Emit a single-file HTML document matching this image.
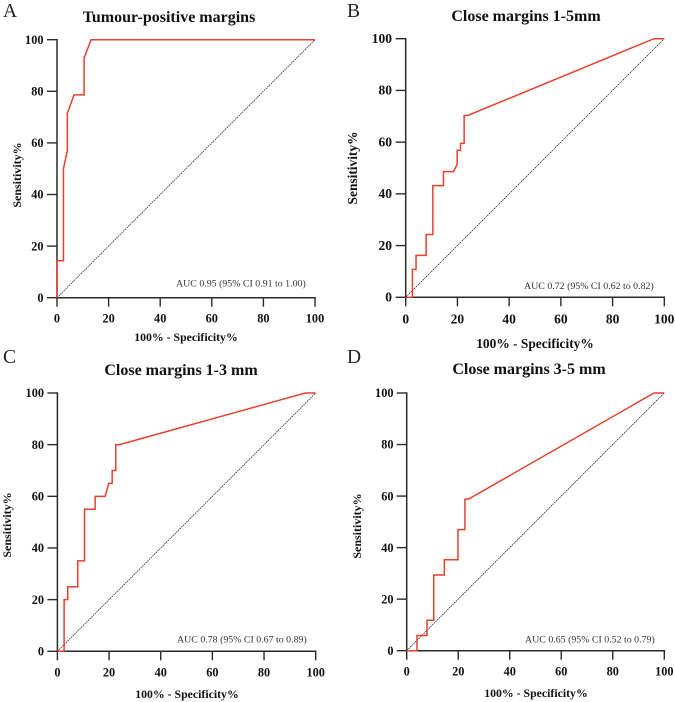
<!DOCTYPE html>
<html lang="en">
<head>
<meta charset="utf-8">
<title>ROC curves</title>
<style>
html,body{margin:0;padding:0;background:#fff;}
svg{display:block;font-family:"Liberation Serif",serif;}
.tick{font-size:12.3px;font-weight:bold;fill:#111;}
.axis-label{font-size:11.8px;font-weight:bold;fill:#111;}
.axis-label.large{font-size:13.4px;}
.y-label{font-size:12px;}
.y-label.large{font-size:13.4px;}
.title{font-size:16px;font-weight:bold;fill:#111;}
.letter{font-size:19.5px;fill:#222;}
.auc{font-size:9.9px;fill:#333;}
</style>
</head>
<body>
<svg id="fig" width="675" height="702" viewBox="0 0 675 702" xmlns="http://www.w3.org/2000/svg">
  <rect width="675" height="702" fill="#fff"/>

  <g>
    <text class="letter" x="3" y="17">A</text>
    <text class="title" x="169" y="22" text-anchor="middle">Tumour-positive margins</text>
    <text class="auc" x="176" y="286.500">AUC 0.95 (95% CI 0.91 to 1.00)</text>
    <text class="axis-label" x="186" y="341" text-anchor="middle">100% - Specificity%</text>
    <text class="axis-label y-label" transform="translate(21 175) rotate(-90)" text-anchor="middle">Sensitivity%</text>
  </g>

  <g>
    <text class="letter" x="347" y="17">B</text>
    <text class="title" x="526" y="21" text-anchor="middle">Close margins 1-5mm</text>
    <text class="auc" x="524" y="289">AUC 0.72 (95% CI 0.62 to 0.82)</text>
    <text class="axis-label large" x="535" y="348" text-anchor="middle">100% - Specificity%</text>
    <text class="axis-label y-label large" transform="translate(357 168) rotate(-90)" text-anchor="middle">Sensitivity%</text>
  </g>

  <g>
    <text class="letter" x="3" y="363">C</text>
    <text class="title" x="181" y="375" text-anchor="middle">Close margins 1-3 mm</text>
    <text class="auc" x="177" y="642.500">AUC 0.78 (95% CI 0.67 to 0.89)</text>
    <text class="axis-label" x="187" y="698" text-anchor="middle">100% - Specificity%</text>
    <text class="axis-label y-label" transform="translate(11 525) rotate(-90)" text-anchor="middle">Sensitivity%</text>
  </g>

  <g>
    <text class="letter" x="347" y="363">D</text>
    <text class="title" x="529" y="374" text-anchor="middle">Close margins 3-5 mm</text>
    <text class="auc" x="525" y="642.500">AUC 0.65 (95% CI 0.52 to 0.79)</text>
    <text class="axis-label" x="536" y="697" text-anchor="middle">100% - Specificity%</text>
    <text class="axis-label y-label" transform="translate(361 526) rotate(-90)" text-anchor="middle">Sensitivity%</text>
  </g>
</svg>
<script>
// Tick labels shared by both axes of every panel
const tickValues = [0, 20, 40, 60, 80, 100];

// Reference diagonal
const diagonalX = [0, 100];
const diagonalY = [0, 100];

// Series values: 100% - specificity (x) and sensitivity (y)
const panelAX = [0, 0, 2.5, 2.5, 4, 4, 6.6, 10.5, 10.5, 13.2, 100];
const panelAY = [0, 14.3, 14.3, 50, 57, 71.4, 78.6, 78.6, 92.9, 100, 100];

const panelBX = [0, 2.6, 2.6, 4, 4, 7.9, 7.9, 10.5, 10.5, 14.6, 14.6, 18.5, 19.9, 19.9, 21.2, 21.2, 22.6, 22.6, 24, 96, 100];
const panelBY = [0, 0, 10.8, 10.8, 16.2, 16.2, 24.3, 24.3, 43.2, 43.2, 48.6, 48.6, 51.4, 56.8, 56.8, 59.5, 59.5, 70.3, 70.3, 100, 100];

const panelCX = [0, 2.6, 2.6, 4, 4, 7.9, 7.9, 10.5, 10.5, 14.6, 14.6, 18.5, 19.9, 21.2, 21.2, 22.6, 22.6, 24, 96, 100];
const panelCY = [0, 0, 20, 20, 25, 25, 35, 35, 55, 55, 60, 60, 65, 65, 70, 70, 80, 80, 100, 100];

const panelDX = [0, 4, 4, 7.9, 7.9, 10.5, 10.5, 14.6, 14.6, 19.9, 19.9, 22.6, 22.6, 24, 96, 100];
const panelDY = [0, 0, 5.9, 5.9, 11.8, 11.8, 29.4, 29.4, 35.3, 35.3, 47, 47, 58.8, 58.8, 100, 100];

const NS = 'http://www.w3.org/2000/svg';
const fig = document.getElementById('fig');

function make(tag, attrs, parent) {
  const el = document.createElementNS(NS, tag);
  for (const k in attrs) el.setAttribute(k, attrs[k]);
  parent.appendChild(el);
  return el;
}

function drawPanel(id, frame, xs, ys) {
  const sx = v => frame.x0 + (frame.x1 - frame.x0) * v / 100;
  const sy = v => frame.y0 + (frame.y1 - frame.y0) * v / 100;
  const toPoints = (a, b) => a.map((v, i) => sx(v).toFixed(2) + ',' + sy(b[i]).toFixed(2)).join(' ');

  const g = make('g', {}, fig);
  
  

  const diag = make('polyline', {points: toPoints(diagonalX, diagonalY), fill: 'none', stroke: '#222', 'stroke-width': 0.75, 'stroke-dasharray': '1.6 0.8'}, g);
  
  

  const xAxis = make('line', {x1: sx(0) - 0.8, x2: sx(100) + 0.8, y1: sy(0), y2: sy(0), stroke: '#2a2a2a', 'stroke-width': 1.5}, g);
  
  

  const yAxis = make('line', {x1: sx(0), x2: sx(0), y1: sy(0) + 0.8, y2: sy(100) - 0.8, stroke: '#2a2a2a', 'stroke-width': 1.5}, g);
  
  

  tickValues.forEach(t => {
    const xt = make('line', {x1: sx(t), x2: sx(t), y1: sy(0), y2: sy(0) + 9, stroke: '#2a2a2a', 'stroke-width': 1.4}, g);
    
    

    const yt = make('line', {x1: sx(0) - 10, x2: sx(0), y1: sy(t), y2: sy(t), stroke: '#2a2a2a', 'stroke-width': 1.4}, g);
    
    

    const xl = make('text', {class: 'tick', x: sx(t), y: frame.xLabelY, 'text-anchor': 'middle', 'font-size': frame.tickSize, style: 'font-size:' + frame.tickSize + 'px'}, g);
    xl.textContent = t;
    
    

    const yl = make('text', {class: 'tick', x: frame.yLabelX, y: sy(t) + 4.2, 'text-anchor': 'end', style: 'font-size:' + frame.tickSize + 'px'}, g);
    yl.textContent = t;
    
    
  });

  const curve = make('polyline', {points: toPoints(xs, ys), fill: 'none', stroke: '#e8402c', 'stroke-width': 1.5, 'stroke-linejoin': 'miter'}, g);
  
  
}

drawPanel('a', {x0: 57, x1: 315, y0: 297.7, y1: 39.7, xLabelY: 322.5, yLabelX: 43.5, tickSize: 12.3}, panelAX, panelAY);
drawPanel('b', {x0: 405.7, x1: 664.3, y0: 297.3, y1: 38.7, xLabelY: 323.5, yLabelX: 392, tickSize: 13.5}, panelBX, panelBY);
drawPanel('c', {x0: 57.4, x1: 315.7, y0: 651.3, y1: 393, xLabelY: 676.5, yLabelX: 44, tickSize: 12.3}, panelCX, panelCY);
drawPanel('d', {x0: 406.7, x1: 664.3, y0: 650.7, y1: 393, xLabelY: 675.5, yLabelX: 393.5, tickSize: 12.3}, panelDX, panelDY);
</script>
</body>
</html>
